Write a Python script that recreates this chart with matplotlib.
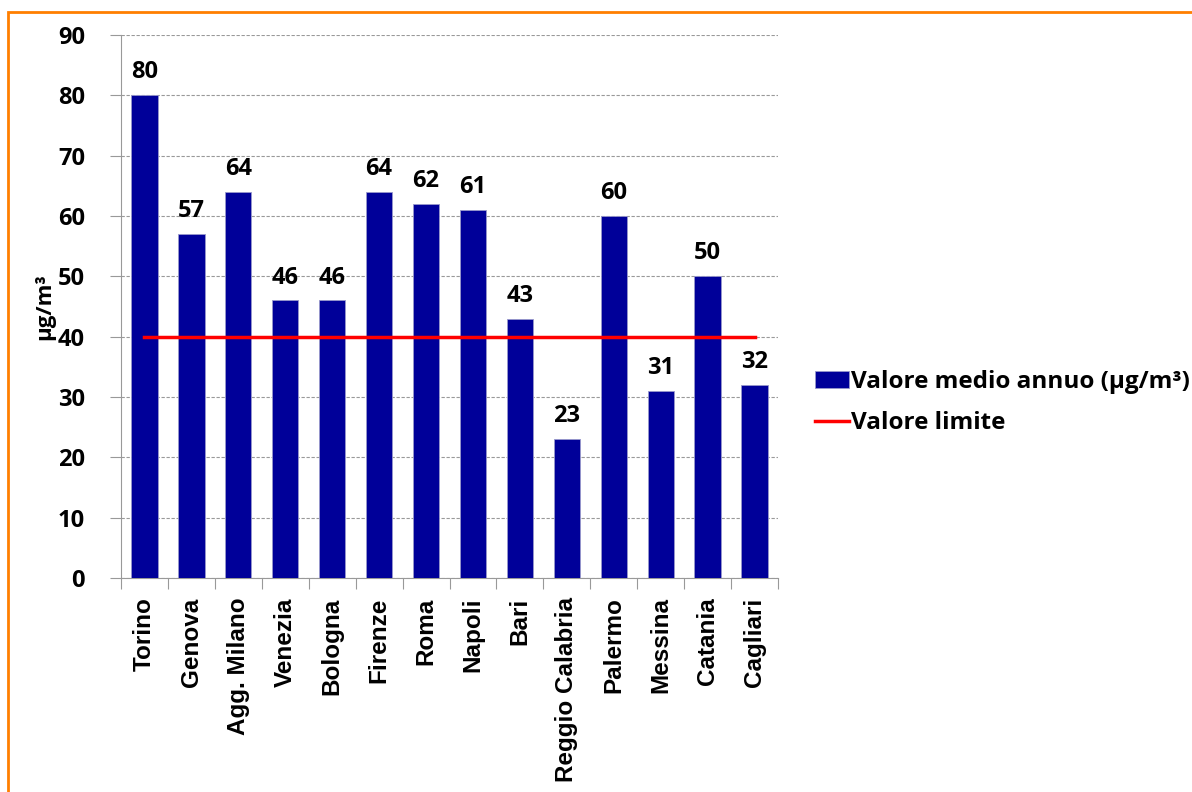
import matplotlib
matplotlib.use("Agg")
from matplotlib import pyplot as plt
from matplotlib.patches import Rectangle

cities = ["Torino", "Genova", "Agg. Milano", "Venezia", "Bologna", "Firenze", "Roma",
          "Napoli", "Bari", "Reggio Calabria", "Palermo", "Messina", "Catania", "Cagliari"]
values = [80, 57, 64, 46, 46, 64, 62, 61, 43, 23, 60, 31, 50, 32]
limit = 40
yticks = [0, 10, 20, 30, 40, 50, 60, 70, 80, 90]

num_font = "Open Sans"
lab_font = "Liberation Sans"

fig = plt.figure(figsize=(11.92, 7.92), dpi=100)
ax = fig.add_axes([0.1015, 0.2702, 0.5512, 0.6856])

x = list(range(len(cities)))
bars = ax.bar(x, values, width=0.56, color="#000099", edgecolor="#9999cc", linewidth=0.6,
              label="Valore medio annuo (µg/m³)", zorder=3)
line, = ax.plot([x[0], x[-1]], [limit, limit], color="#ff0000", linewidth=2.5,
                label="Valore limite", zorder=4)

for xi, v in zip(x, values):
    ax.text(xi, v + 1.8, str(v), ha="center", va="bottom", fontsize=17,
            fontweight="bold", family=num_font)

ax.set_xlim(-0.5, len(cities) - 0.5)
ax.set_ylim(0, 90)
ax.set_yticks(yticks)
ax.set_yticklabels([str(t) for t in yticks], fontsize=17, fontweight="bold", family=num_font)
ax.set_xticks([i - 0.5 for i in range(len(cities) + 1)])
ax.set_xticklabels([])
ax.set_xticks(x, minor=True)
ax.set_xticklabels(cities, minor=True, rotation=90, fontsize=17.5, fontweight="bold", family=lab_font)
ax.tick_params(axis="x", which="minor", length=0, pad=14)
ax.tick_params(axis="x", which="major", length=8, color="#999999", direction="out")
ax.tick_params(axis="y", length=8, color="#999999", pad=18)

ax.yaxis.grid(True, linestyle=(0, (3, 1.5)), color="#999999", linewidth=0.8, zorder=0)
for s in ["top", "right"]:
    ax.spines[s].set_visible(False)
for s in ["left", "bottom"]:
    ax.spines[s].set_color("#999999")

ax.set_ylabel("µg/m³", fontsize=16, fontweight="bold", family=num_font, labelpad=2)

fig.legend([bars, line], ["Valore medio annuo (µg/m³)", "Valore limite"],
           loc="upper left", bbox_to_anchor=(0.665, 0.56), frameon=False,
           prop={"family": num_font, "weight": "bold", "size": 17.5},
           handlelength=1.4, handletextpad=0.1, labelspacing=0.7)

fig.patches.append(Rectangle((0.007, -0.01), 1.1, 0.995, transform=fig.transFigure,
                             fill=False, edgecolor="#ff7f00", linewidth=2))

fig.savefig("out.png", dpi=100)
